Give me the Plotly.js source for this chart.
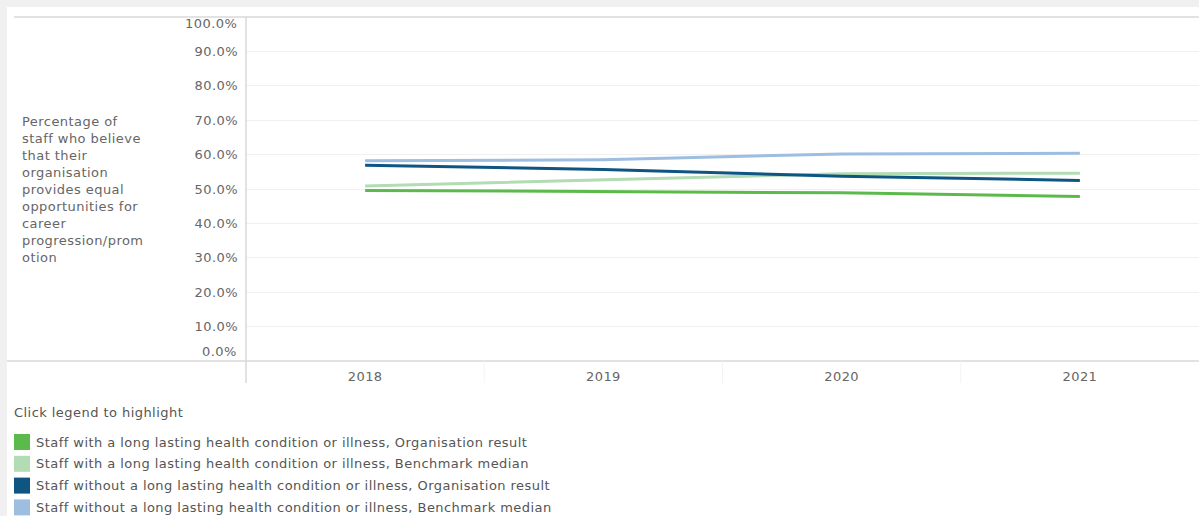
<!DOCTYPE html>
<html>
<head>
<meta charset="utf-8">
<script src="https://cdn.plot.ly/plotly-3.0.1.min.js"></script>
<style>
  html, body { margin: 0; padding: 0; background: #f0f0f0; width: 1199px; height: 516px; overflow: hidden; }
  #chart { position: absolute; left: 7px; top: 7px; width: 1192px; height: 509px; background: #fff; }
  svg text { letter-spacing: 0.45px; }
</style>
</head>
<body>
<div id="chart"></div>
<script>
// ---- Data ----
const years = ['2018', '2019', '2020', '2021'];
const withOrg = [49.6, 49.3, 48.9, 47.8];
const withBench = [50.9, 52.6, 54.4, 54.6];
const withoutOrg = [56.9, 55.7, 53.7, 52.5];
const withoutBench = [58.2, 58.5, 60.2, 60.4];
const seriesNames = [
  'Staff with a long lasting health condition or illness, Organisation result',
  'Staff with a long lasting health condition or illness, Benchmark median',
  'Staff without a long lasting health condition or illness, Organisation result',
  'Staff without a long lasting health condition or illness, Benchmark median'
];
const seriesValues = [withOrg, withBench, withoutOrg, withoutBench];
const seriesColors = ['#5cba4c', '#b2dcb3', '#0f5581', '#9dbde1'];
const yTickVals = [0, 10, 20, 30, 40, 50, 60, 70, 80, 90, 100];
const yTitleLines = ['Percentage of', 'staff who believe', 'that their', 'organisation',
  'provides equal', 'opportunities for', 'career', 'progression/prom', 'otion'];
const legendHeading = 'Click legend to highlight';

// ---- Geometry (page pixels) ----
const OFFX = 7, OFFY = 7;
const PL = 246, PR = 1199, PT = 17, PB = 361;
const W = PR - PL, H = PB - PT;
const px = x => (x - PL) / W;
const py = y => (PB - y) / H;
const fontFam = '"DejaVu Sans", Verdana, sans-serif';
const txtColor = '#666666';
const FS = 13;

const traces = seriesValues.map((vals, i) => ({
  type: 'scatter', mode: 'lines', x: years, y: vals, name: seriesNames[i],
  line: { color: seriesColors[i], width: 3 }, showlegend: false, hoverinfo: 'x+y+name'
}));
const order = [3, 1, 2, 0];
const data = order.map(i => traces[i]);

const fmt = v => v.toFixed(1) + '%';
const midTicks = yTickVals.filter(v => v > 0 && v < 100);

const shapes = [
  { type: 'line', xref: 'paper', yref: 'paper', x0: px(14), x1: px(1199), y0: py(17), y1: py(17), line: { color: '#d9d9d9', width: 1.5 } },
  { type: 'line', xref: 'paper', yref: 'paper', x0: px(7), x1: px(1199), y0: py(361), y1: py(361), line: { color: '#d9d9d9', width: 1.5 } },
  { type: 'line', xref: 'paper', yref: 'paper', x0: px(246), x1: px(246), y0: py(17), y1: py(383), line: { color: '#d9d9d9', width: 1.5 } }
];
for (let k = 1; k < years.length; k++) {
  shapes.push({ type: 'line', xref: 'x', yref: 'paper', x0: k - 0.5, x1: k - 0.5, y0: py(361), y1: py(383), line: { color: '#f3f3f3', width: 1 } });
}

const annotations = [];
annotations.push({ xref: 'paper', yref: 'y', x: px(239), y: 0, xanchor: 'right', yanchor: 'middle', yshift: 10, text: fmt(0), showarrow: false, font: { family: fontFam, size: FS, color: txtColor } });
annotations.push({ xref: 'paper', yref: 'y', x: px(239), y: 100, xanchor: 'right', yanchor: 'middle', yshift: -6, text: fmt(100), showarrow: false, font: { family: fontFam, size: FS, color: txtColor } });
yTitleLines.forEach((t, i) => {
  annotations.push({ xref: 'paper', yref: 'paper', x: px(20), y: py(121 + i * 17.1), xanchor: 'left', yanchor: 'middle', text: t, showarrow: false, font: { family: fontFam, size: FS, color: txtColor } });
});
annotations.push({ xref: 'paper', yref: 'paper', x: px(12), y: py(412), xanchor: 'left', yanchor: 'middle', text: legendHeading, showarrow: false, font: { family: fontFam, size: FS, color: '#555555' } });
seriesNames.forEach((n, i) => {
  const cy = 442 + i * 21.8;
  shapes.push({ type: 'rect', xref: 'paper', yref: 'paper', x0: px(14), x1: px(30), y0: py(cy - 8), y1: py(cy + 8), fillcolor: seriesColors[i], line: { width: 0 } });
  annotations.push({ xref: 'paper', yref: 'paper', x: px(34), y: py(cy), xanchor: 'left', yanchor: 'middle', text: n, showarrow: false, font: { family: fontFam, size: FS, color: '#555555' } });
});

const layout = {
  width: 1192, height: 509,
  margin: { l: PL - OFFX, r: 0, t: PT - OFFY, b: 509 - (PB - OFFY) },
  paper_bgcolor: '#ffffff', plot_bgcolor: '#ffffff',
  showlegend: false,
  xaxis: {
    type: 'category', range: [-0.5, years.length - 0.5], showgrid: false, zeroline: false, showline: false,
    ticks: '', ticklabelstandoff: 6, tickfont: { family: fontFam, size: FS, color: txtColor }, fixedrange: true
  },
  yaxis: {
    range: [0, 100], tickmode: 'array', tickvals: midTicks, ticktext: midTicks.map(fmt),
    showgrid: true, gridcolor: '#f0f0f0', gridwidth: 1, zeroline: false, showline: false,
    ticks: '', ticklabelstandoff: 7, tickfont: { family: fontFam, size: FS, color: txtColor }, fixedrange: true
  },
  shapes: shapes,
  annotations: annotations
};

Plotly.newPlot('chart', data, layout, { displayModeBar: false });
</script>
</body>
</html>
